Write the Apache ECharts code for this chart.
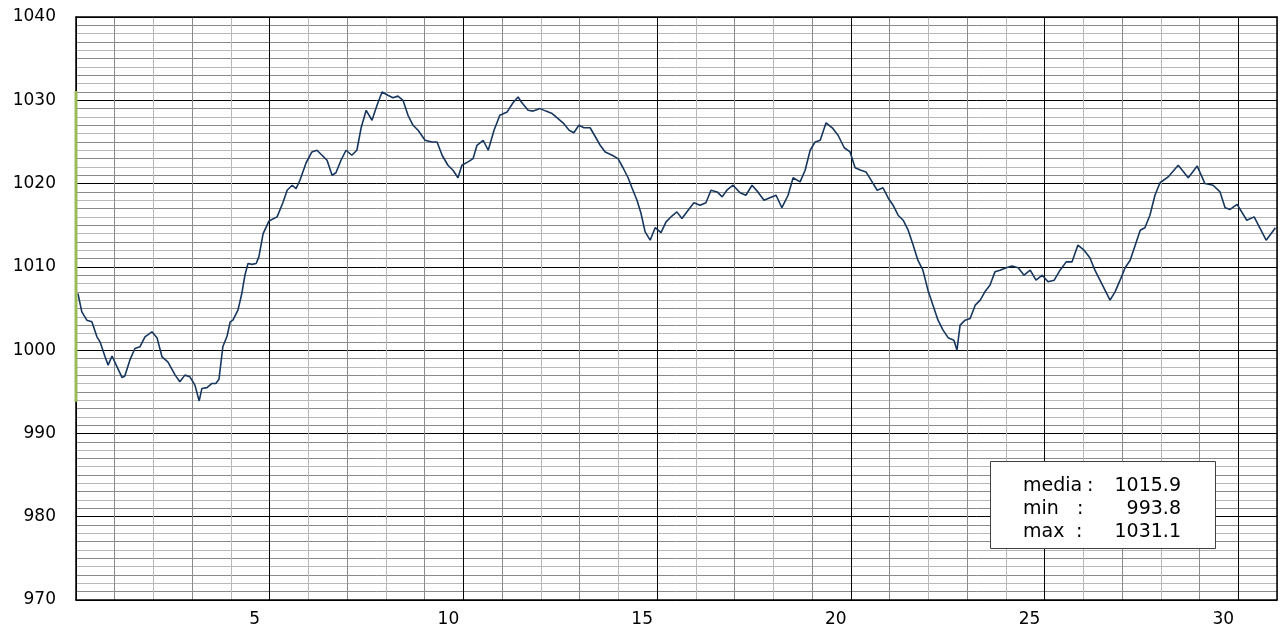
<!DOCTYPE html>
<html>
<head>
<meta charset="utf-8">
<script src="https://cdn.jsdelivr.net/npm/echarts@6/dist/echarts.min.js"></script>
<style>
html,body{margin:0;padding:0;background:#fff;}
#chart{width:1284px;height:629px;}
</style>
</head>
<body>
<div id="chart"></div>
<script>
// Day of month (fractional) and pressure (hPa)
const days = [0.05,0.15,0.28,0.41,0.54,0.62,0.75,0.83,0.93,1.06,1.19,1.26,1.39,1.52,1.65,1.78,1.96,2.09,2.22,2.37,2.56,2.68,2.81,2.94,3.07,3.18,3.25,3.38,3.51,3.61,3.69,3.79,3.90,3.98,4.05,4.18,4.28,4.36,4.44,4.54,4.65,4.72,4.83,4.98,5.19,5.34,5.45,5.58,5.68,5.78,5.94,6.09,6.22,6.35,6.48,6.61,6.71,6.84,6.97,7.12,7.25,7.36,7.49,7.64,7.77,7.90,8.05,8.18,8.31,8.44,8.57,8.70,8.83,9.01,9.19,9.32,9.45,9.60,9.73,9.86,9.96,10.12,10.25,10.35,10.51,10.64,10.79,10.94,11.13,11.28,11.41,11.51,11.67,11.80,11.98,12.13,12.29,12.42,12.57,12.73,12.85,12.98,13.11,13.27,13.42,13.53,13.66,13.84,13.99,14.12,14.25,14.35,14.48,14.58,14.69,14.82,14.95,15.10,15.23,15.38,15.51,15.64,15.80,15.95,16.11,16.26,16.39,16.55,16.68,16.80,16.96,17.14,17.29,17.45,17.60,17.76,17.91,18.07,18.22,18.38,18.51,18.69,18.82,18.95,19.08,19.21,19.36,19.52,19.67,19.83,19.98,20.11,20.26,20.39,20.55,20.68,20.83,20.96,21.09,21.22,21.35,21.48,21.61,21.73,21.86,21.99,22.12,22.25,22.38,22.51,22.66,22.74,22.82,22.95,23.08,23.21,23.34,23.46,23.59,23.72,23.85,24.01,24.16,24.32,24.47,24.63,24.78,24.94,25.09,25.25,25.40,25.56,25.71,25.86,26.02,26.17,26.30,26.43,26.56,26.69,26.82,26.95,27.08,27.21,27.34,27.47,27.59,27.72,27.85,27.98,28.19,28.45,28.71,28.94,29.14,29.35,29.53,29.66,29.79,29.97,30.22,30.41,30.72,30.96];
const pressure = [1006.8,1004.6,1003.6,1003.4,1001.6,1001.0,999.2,998.2,999.3,998.0,996.7,996.9,998.8,1000.2,1000.4,1001.6,1002.2,1001.5,999.2,998.6,997.0,996.2,997.0,996.8,995.8,993.9,995.4,995.5,996.0,996.0,996.5,1000.4,1001.7,1003.4,1003.6,1004.8,1006.8,1009.0,1010.4,1010.3,1010.4,1011.2,1014.0,1015.5,1016.0,1017.7,1019.2,1019.8,1019.4,1020.4,1022.5,1023.8,1024.0,1023.4,1022.8,1021.0,1021.3,1022.8,1024.0,1023.4,1024.0,1026.7,1028.8,1027.6,1029.4,1031.0,1030.6,1030.3,1030.5,1030.0,1028.2,1027.0,1026.4,1025.2,1025.0,1025.0,1023.4,1022.2,1021.6,1020.7,1022.2,1022.6,1023.0,1024.6,1025.2,1024.0,1026.4,1028.2,1028.6,1029.7,1030.4,1029.7,1028.8,1028.7,1029.0,1028.7,1028.4,1027.9,1027.3,1026.4,1026.1,1027.0,1026.7,1026.7,1025.5,1024.6,1023.8,1023.4,1023.0,1021.9,1020.7,1019.5,1018.0,1016.5,1014.2,1013.2,1014.7,1014.1,1015.4,1016.1,1016.6,1015.8,1016.8,1017.7,1017.4,1017.7,1019.2,1019.0,1018.4,1019.2,1019.8,1018.9,1018.6,1019.8,1019.0,1018.0,1018.3,1018.6,1017.1,1018.6,1020.7,1020.2,1021.6,1024.0,1025.0,1025.2,1027.3,1026.7,1025.8,1024.3,1023.8,1021.9,1021.6,1021.4,1020.2,1019.2,1019.5,1018.3,1017.4,1016.2,1015.6,1014.4,1012.6,1010.8,1009.6,1007.2,1005.4,1003.6,1002.4,1001.5,1001.2,1000.0,1003.0,1003.6,1003.8,1005.4,1006.0,1007.0,1007.8,1009.4,1009.6,1009.9,1010.1,1009.9,1009.0,1009.6,1008.4,1009.0,1008.2,1008.4,1009.6,1010.6,1010.6,1012.6,1012.0,1011.1,1009.6,1008.4,1007.2,1006.0,1007.0,1008.4,1009.9,1010.8,1012.6,1014.4,1014.7,1016.2,1018.6,1020.1,1020.8,1022.2,1020.7,1022.1,1020.0,1019.8,1019.0,1017.1,1016.9,1017.5,1015.6,1016.0,1013.2,1014.7];

const xTickLabels = [5, 10, 15, 20, 25, 30];
const yTickLabels = [970, 980, 990, 1000, 1010, 1020, 1030, 1040];
const statNames = ['media', 'min', 'max'];
const meanVal = 1015.9;
const minVal = 993.8;
const maxVal = 1031.1;
const statValues = [meanVal, minVal, maxVal];

const FONT = 'DejaVu Sans';
const chart = echarts.init(document.getElementById('chart'), null, {renderer: 'canvas'});

const vColors = ['#000', '#8a8a8a', '#b8b8b8', '#8a8a8a', '#b8b8b8', '#000', '#b8b8b8', '#8a8a8a', '#b8b8b8', '#8a8a8a'];
const hColors = ['#000', '#8a8a8a', '#b8b8b8', '#8a8a8a', '#b8b8b8', '#8a8a8a', '#b8b8b8', '#8a8a8a', '#b8b8b8', '#8a8a8a'];

const seriesData = days.map((d, i) => [d, pressure[i]]);

const statLines = statNames.map((n, i) => ({name: n, value: statValues[i].toFixed(1)}));
const colonX = [1087, 1077, 1076];
const graphics = [
  {type: 'rect', shape: {x: 990.5, y: 461.5, width: 225, height: 87}, style: {fill: '#fff', stroke: '#404040', lineWidth: 1}, z: 100}
];
statLines.forEach((s, i) => {
  const y = 486 + i * 23;
  const font = '19px "' + FONT + '"';
  graphics.push({type: 'text', x: 1023, y: y, style: {text: s.name, font: font, fill: '#000', textVerticalAlign: 'middle', textAlign: 'left'}, z: 101});
  graphics.push({type: 'text', x: colonX[i], y: y, style: {text: ':', font: font, fill: '#000', textVerticalAlign: 'middle', textAlign: 'left'}, z: 101});
  graphics.push({type: 'text', x: 1181, y: y, style: {text: s.value, font: font, fill: '#000', textVerticalAlign: 'middle', textAlign: 'right'}, z: 101});
});

chart.setOption({
  animation: false,
  backgroundColor: '#fff',
  grid: {left: 76, top: 17, width: 1201, height: 583, show: false},
  xAxis: [{
    type: 'value', min: 0, max: 31, interval: 1,
    axisLine: {show: true, lineStyle: {color: '#000', width: 1.5}},
    axisTick: {show: false},
    axisLabel: {
      fontFamily: FONT, fontSize: 17, color: '#000', margin: 11,
      padding: [0, 30, 0, 0],
      formatter: v => xTickLabels.indexOf(v) >= 0 ? String(v) : ''
    },
    splitLine: {show: true, lineStyle: {color: vColors, width: 1}}
  }, {
    type: 'value', min: 0, max: 31, position: 'top',
    axisLine: {show: true, onZero: false, lineStyle: {color: '#000', width: 1.5}},
    axisTick: {show: false}, axisLabel: {show: false}, splitLine: {show: false}
  }],
  yAxis: [{
    type: 'value', min: 970, max: 1040, interval: 10,
    axisLine: {show: true, onZero: false, lineStyle: {color: '#000', width: 1.5}},
    axisTick: {show: false},
    axisLabel: {fontFamily: FONT, fontSize: 17, color: '#000', margin: 20,
      formatter: v => yTickLabels.indexOf(v) >= 0 ? String(v) : ''},
    splitLine: {show: false}
  }, {
    type: 'value', min: 970, max: 1040, interval: 1, position: 'right',
    axisLine: {show: true, onZero: false, lineStyle: {color: '#000', width: 1.5}},
    axisTick: {show: false}, axisLabel: {show: false},
    splitLine: {show: true, lineStyle: {color: hColors, width: 1}}
  }],
  series: [{
    type: 'line', xAxisIndex: 0, yAxisIndex: 0,
    data: seriesData, showSymbol: false, symbol: 'none',
    lineStyle: {color: '#17375e', width: 1.6}, z: 5
  }, {
    type: 'line', xAxisIndex: 0, yAxisIndex: 0, clip: false,
    data: [[0, minVal], [0, maxVal]], showSymbol: false, symbol: 'none',
    lineStyle: {color: '#9bbb59', width: 3}, z: 6
  }],
  graphic: graphics
});
</script>
</body>
</html>
